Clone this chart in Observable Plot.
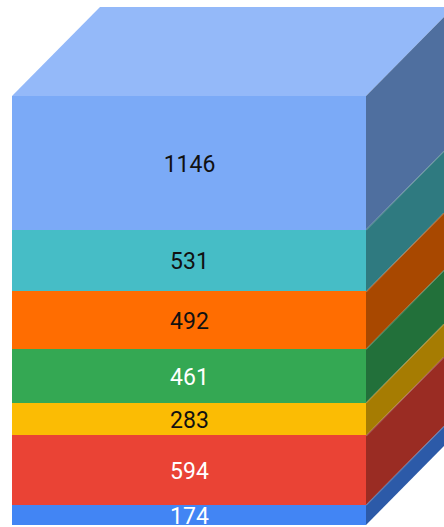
<!DOCTYPE html>
<html>
<head>
<meta charset="utf-8">
<script src="https://cdn.jsdelivr.net/npm/d3@7"></script>
<script src="https://cdn.jsdelivr.net/npm/@observablehq/plot@0.6"></script>
<style>
  html, body { margin: 0; padding: 0; background: #fff; overflow: hidden; }
  svg { display: block; }
</style>
</head>
<body>
<div id="chart"></div>
<script>
// Stack order runs from the bottom of the block to the top.
const values = [174, 594, 283, 461, 492, 531, 1146];
const frontColors = ["#4285f4", "#ea4335", "#fbbc04", "#34a853", "#ff6d01", "#46bdc6", "#7baaf7"];
const sideColors = ["#2c5aa8", "#9a2c23", "#a67c02", "#22703a", "#a84800", "#2f7a80", "#4f6f9f"];
const labelColors = ["#ffffff", "#ffffff", "#111111", "#ffffff", "#111111", "#111111", "#111111"];
const topColor = "#94b9f9";

// Extrusion of the block, in scale units.
const depthX = 0.2486;
const depthY = 764;

let running = 0;
const segments = values.map((value, i) => {
  const y1 = running;
  running += value;
  return { value, y1, y2: running, fill: frontColors[i], side: sideColors[i], label: labelColors[i], mid: (y1 + running) / 2 };
});
const total = running;

const sideFaces = segments.flatMap((s, i) => [
  { i, x: 1, y1: s.y1, y2: s.y2, fill: s.side },
  { i, x: 1 + depthX, y1: s.y1 + depthY, y2: s.y2 + depthY, fill: s.side }
]);
const sideEdges = segments.slice(1).flatMap((s, i) => [
  { i, x: 1, y: s.y1 },
  { i, x: 1 + depthX, y: s.y1 + depthY }
]);
const topFace = [
  { y: total, x1: 0, x2: 1 },
  { y: total + depthY, x1: depthX, x2: 1 + depthX }
];

const chart = Plot.plot({
  width: 444,
  height: 527,
  margin: 0,
  x: { domain: [0, 1], range: [12, 366], axis: null },
  y: { domain: [0, total], range: [525, 96], axis: null },
  style: { background: "#ffffff" },
  marks: [
    // Top face
    Plot.areaX(topFace, { x1: "x1", x2: "x2", y: "y", fill: topColor }),
    // Right-hand faces
    Plot.areaY(sideFaces, { x: "x", y1: "y1", y2: "y2", z: "i", fill: "fill" }),
    Plot.line(sideEdges, { x: "x", y: "y", z: "i", stroke: "#c8c8c8", strokeWidth: 0.6, strokeOpacity: 0.6 }),
    // Front faces
    Plot.rect(segments, { x1: 0, x2: 1, y1: "y1", y2: "y2", fill: "fill", shapeRendering: "crispEdges" }),
    // Value labels
    Plot.text(segments, {
      x: 0.5,
      y: "mid",
      dy: 1,
      text: (d) => String(d.value),
      fill: "label",
      stroke: "fill",
      strokeWidth: 2,
      fontFamily: "Roboto",
      fontSize: 23,
      textAnchor: "middle",
      lineAnchor: "middle"
    })
  ]
});
document.getElementById("chart").appendChild(chart);
</script>
</body>
</html>
